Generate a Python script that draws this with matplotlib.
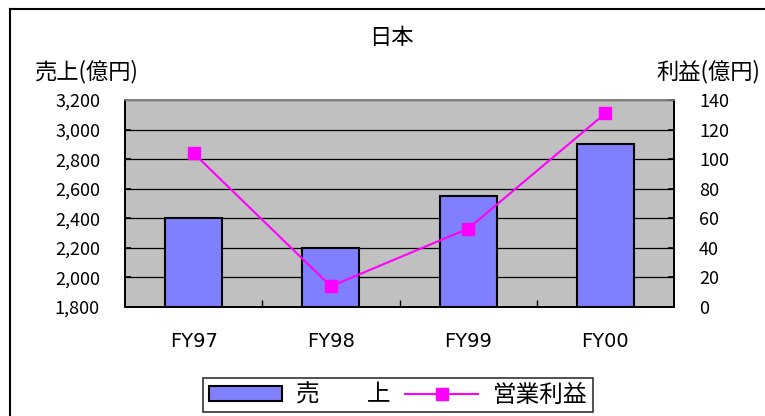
import matplotlib
matplotlib.use("Agg")
import matplotlib.pyplot as plt
from matplotlib.lines import Line2D
from matplotlib.ticker import StrMethodFormatter, FixedLocator, NullFormatter

plt.rcParams['font.family'] = ['Noto Sans CJK JP', 'DejaVu Sans']

# data
years = ['FY97', 'FY98', 'FY99', 'FY00']
sales = [2400, 2200, 2550, 2900]         # 売上 (億円)
profit = [104, 14, 53, 131]              # 営業利益 (億円)
sales_ticks = [1800, 2000, 2200, 2400, 2600, 2800, 3000, 3200]
profit_ticks = [0, 20, 40, 60, 80, 100, 120, 140]

fig = plt.figure(figsize=(7.65, 4.16), dpi=100)
ax = fig.add_axes([125 / 765, 1 - 307 / 416, 549 / 765, 207 / 416])
ax.set_facecolor('#C0C0C0')

x = range(len(years))
bars = ax.bar(x, [s - sales_ticks[0] for s in sales], bottom=sales_ticks[0],
              width=0.415, color='#8080FF', edgecolor='black', linewidth=1.5,
              zorder=3, label='売　　上')
ax.set_xlim(-0.5, len(years) - 0.5)
ax.set_ylim(sales_ticks[0], sales_ticks[-1])
ax.set_yticks(sales_ticks)
ax.yaxis.set_major_formatter(StrMethodFormatter('{x:,.0f}'))
ax.grid(axis='y', color='black', linewidth=0.9, zorder=1)
ax.set_axisbelow(True)

ax.set_xticks(list(x))
ax.set_xticklabels(years, fontsize=14, family=['DejaVu Sans'])
ax.xaxis.set_minor_locator(FixedLocator([i + 0.5 for i in range(len(years) - 1)]))
ax.xaxis.set_minor_formatter(NullFormatter())
ax.tick_params(axis='x', which='major', length=0, pad=18)
ax.tick_params(axis='x', which='minor', direction='in', length=5, width=1)
ax.tick_params(axis='y', direction='in', length=4, width=1.2, pad=18, labelsize=13)

ax2 = ax.twinx()
line, = ax2.plot(x, profit, color='#FF00FF', linewidth=1.5, marker='s',
                 markersize=8, zorder=4, label='営業利益')
ax2.set_ylim(profit_ticks[0], profit_ticks[-1])
ax2.set_yticks(profit_ticks)
ax2.tick_params(axis='y', direction='in', length=4, width=1.2, pad=18, labelsize=13)

for a in (ax, ax2):
    a.spines['top'].set_color('#808080')
    a.spines['top'].set_linewidth(1.2)
    for s in ('left', 'right', 'bottom'):
        a.spines[s].set_color('black')
        a.spines[s].set_linewidth(1.3)

fig.text(391 / 765, 1 - 37 / 416, '日本', ha='center', va='center', fontsize=16)
fig.text(35 / 765, 1 - 72 / 416, '売上(億円)', ha='left', va='center', fontsize=16)
fig.text(760 / 765, 1 - 72 / 416, '利益(億円)', ha='right', va='center', fontsize=16)

leg = ax.legend([bars, line], ['売　　上', '営業利益'], loc='center',
                bbox_to_anchor=(398 / 765, 1 - 395 / 416),
                bbox_transform=fig.transFigure, ncol=2, fontsize=17,
                frameon=True, fancybox=False, edgecolor='black',
                handlelength=3.1, handleheight=0.6, handletextpad=0.6,
                columnspacing=0.6, borderpad=0.25, borderaxespad=0)
leg.get_frame().set_linewidth(1.2)

# outer chart border (runs off the right and bottom edges)
fig.add_artist(Line2D([10 / 765, 10 / 765], [1 - 9 / 416, -0.1],
                      transform=fig.transFigure, color='black', linewidth=1.5))
fig.add_artist(Line2D([10 / 765, 1.1], [1 - 9 / 416, 1 - 9 / 416],
                      transform=fig.transFigure, color='black', linewidth=1.5))

fig.savefig('out.png', dpi=100)
